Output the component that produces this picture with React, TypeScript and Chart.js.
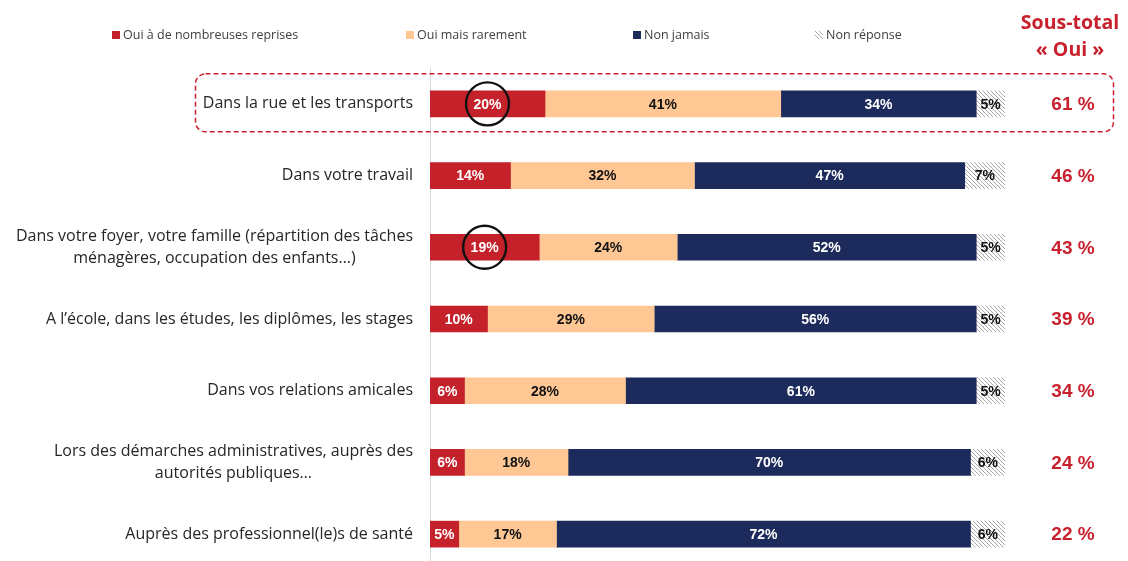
import React, { useEffect, useRef } from "react";
import { Chart, registerables } from "chart.js";

Chart.register(...registerables);

const categories: (string | string[])[] = [
  "Dans la rue et les transports",
  "Dans votre travail",
  ["Dans votre foyer, votre famille (répartition des tâches", "ménagères, occupation des enfants…)"],
  "A l’école, dans les études, les diplômes, les stages",
  "Dans vos relations amicales",
  ["Lors des démarches administratives, auprès des", "autorités publiques…"],
  "Auprès des professionnel(le)s de santé",
];

const seriesNames = ["Oui à de nombreuses reprises", "Oui mais rarement", "Non jamais", "Non réponse"];
const ouiNombreuses = [20, 14, 19, 10, 6, 6, 5];
const ouiRarement = [41, 32, 24, 29, 28, 18, 17];
const nonJamais = [34, 47, 52, 56, 61, 70, 72];
const nonReponse = [5, 7, 5, 5, 5, 6, 6];
const sousTotalOui = [61, 46, 43, 39, 34, 24, 22];
const headerLines = ["Sous-total", "« Oui »"];
const highlightedRow = 0;
const circledRows = [0, 2];

const RED = "#C4212A";
const PEACH = "#FEC794";
const NAVY = "#1D2B5C";
const ACCENT = "#C8202D";

function makeHatch(): CanvasPattern | string {
  const c = document.createElement("canvas");
  c.width = 4;
  c.height = 4;
  const g = c.getContext("2d");
  if (!g) return "#ddd";
  g.fillStyle = "#ffffff";
  g.fillRect(0, 0, 4, 4);
  g.strokeStyle = "#a8a8a8";
  g.lineWidth = 1;
  g.beginPath();
  g.moveTo(-1, -1);
  g.lineTo(5, 5);
  g.moveTo(-1, 3);
  g.lineTo(1, 5);
  g.moveTo(3, -1);
  g.lineTo(5, 1);
  g.stroke();
  const p = g.createPattern(c, "repeat");
  return p || "#ddd";
}

export default function App() {
  const ref = useRef<HTMLCanvasElement | null>(null);

  useEffect(() => {
    if (!ref.current) return;
    const hatch = makeHatch();
    const fills = [RED, PEACH, NAVY, hatch];
    const labelColors = ["#ffffff", "#111111", "#ffffff", "#111111"];
    const values = [ouiNombreuses, ouiRarement, nonJamais, nonReponse];

    const overlay = {
      id: "overlay",
      beforeDatasetsDraw(chart: any) {
        const { ctx, chartArea } = chart;
        ctx.save();
        ctx.strokeStyle = "#d9d9d9";
        ctx.lineWidth = 1;
        ctx.beginPath();
        ctx.moveTo(chartArea.left + 0.5, chartArea.top);
        ctx.lineTo(chartArea.left + 0.5, chart.height);
        ctx.stroke();
        ctx.restore();
      },
      afterDatasetsDraw(chart: any) {
        const { ctx, chartArea } = chart;
        const yScale = chart.scales.y;
        ctx.save();

        // data labels
        ctx.font = "bold 14px 'Liberation Sans', Arial, sans-serif";
        ctx.textAlign = "center";
        ctx.textBaseline = "middle";
        chart.data.datasets.forEach((ds: any, di: number) => {
          const meta = chart.getDatasetMeta(di);
          meta.data.forEach((el: any, i: number) => {
            const p = el.getProps(["x", "y", "base"], true);
            ctx.fillStyle = labelColors[di];
            ctx.fillText(ds.data[i] + "%", (p.x + p.base) / 2, p.y + 1);
          });
        });

        // circles around first segment labels
        ctx.strokeStyle = "#111111";
        ctx.lineWidth = 2.4;
        circledRows.forEach((r) => {
          const el: any = chart.getDatasetMeta(0).data[r];
          const p = el.getProps(["x", "y", "base"], true);
          ctx.beginPath();
          ctx.arc((p.x + p.base) / 2, p.y, 21.5, 0, Math.PI * 2);
          ctx.stroke();
        });

        // category labels
        ctx.fillStyle = "#262626";
        ctx.font = "16px 'Open Sans', Lato, sans-serif";
        ctx.textBaseline = "middle";
        const rightX = chartArea.left - 17;
        categories.forEach((cat, i) => {
          const y = yScale.getPixelForValue(i);
          const lines = Array.isArray(cat) ? cat : [cat];
          const widths = lines.map((l) => ctx.measureText(l).width);
          const maxW = Math.max(...widths);
          const lh = 21.5;
          ctx.textAlign = "center";
          lines.forEach((l, k) => {
            const ly = y + (k - (lines.length - 1) / 2) * lh;
            ctx.fillText(l, rightX - maxW / 2, ly);
          });
        });

        // subtotal column
        ctx.fillStyle = ACCENT;
        ctx.font = "bold 19px 'Liberation Sans', Arial, sans-serif";
        ctx.textAlign = "center";
        const subX = 1073;
        sousTotalOui.forEach((v, i) => {
          ctx.fillText(v + " %", subX, yScale.getPixelForValue(i) + 1);
        });
        ctx.font = "bold 19.5px 'Open Sans', Lato, sans-serif";
        ctx.fillText(headerLines[0], 1070, 23);
        ctx.fillText(headerLines[1], 1070, 50);

        // dashed highlight box
        const hy = yScale.getPixelForValue(highlightedRow);
        ctx.strokeStyle = "#D0202E";
        ctx.lineWidth = 1.5;
        ctx.setLineDash([5, 3]);
        ctx.beginPath();
        (ctx as any).roundRect(195.5, hy - 30, 918, 58, 10);
        ctx.stroke();
        ctx.setLineDash([]);

        // legend
        const legendX = [112, 406, 633, 815];
        const ly = 35;
        ctx.font = "12.5px 'Open Sans', Lato, sans-serif";
        ctx.textAlign = "left";
        ctx.textBaseline = "middle";
        seriesNames.forEach((name, i) => {
          ctx.fillStyle = fills[i] as any;
          ctx.fillRect(legendX[i], ly - 4, 8, 8);
          ctx.fillStyle = "#404040";
          ctx.fillText(name, legendX[i] + 11, ly);
        });

        ctx.restore();
      },
    };

    const chart = new Chart(ref.current, {
      type: "bar",
      data: {
        labels: categories.map((c) => (Array.isArray(c) ? c.join(" ") : c)),
        datasets: seriesNames.map((name, i) => ({
          label: name,
          data: values[i],
          backgroundColor: fills[i] as any,
          borderWidth: 0,
          barThickness: 26,
        })),
      },
      options: {
        indexAxis: "y",
        responsive: false,
        animation: false,
        layout: { padding: { left: 430, right: 123, top: 68, bottom: 0 } },
        scales: {
          x: { stacked: true, min: 0, max: 100, display: false },
          y: { stacked: true, display: false },
        },
        plugins: {
          legend: { display: false },
          tooltip: { enabled: false },
        },
      },
      plugins: [overlay],
    });
    return () => chart.destroy();
  }, []);

  return (
    <div
      style={{
        position: "fixed",
        left: 0,
        top: 0,
        width: 1128,
        height: 561,
        overflow: "hidden",
        background: "#ffffff",
      }}
    >
      <canvas ref={ref} width={1128} height={570} />
    </div>
  );
}
